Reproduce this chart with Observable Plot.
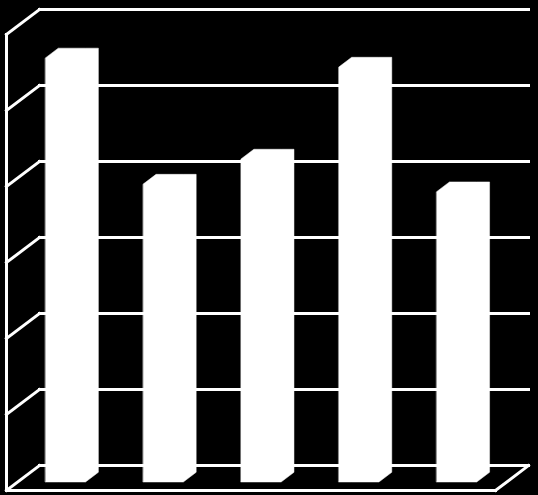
<!DOCTYPE html>
<html><head><meta charset="utf-8">
<script src="https://cdn.jsdelivr.net/npm/d3@7"></script>
<script src="https://cdn.jsdelivr.net/npm/@observablehq/plot@0.6"></script>
<style>html,body{margin:0;padding:0;background:#000;overflow:hidden}</style>
</head><body><div id="chart"></div>
<script>
// Data
const categories = ["1", "2", "3", "4", "5"];
const values = [5.58, 3.92, 4.25, 5.46, 3.82];
const ticks = [0, 1, 2, 3, 4, 5, 6];

// Oblique 3D depth, expressed in data units (category units, value units)
const DX = 33 / 97.8, DY = 25 / 76;
const FRONT = 0.32, BACK = 0.71; // bar depth position (fraction of floor depth)
const HALF = 0.205;             // half-width of a bar in category units

const barPoints = categories.flatMap((c, i) => {
  const v = values[i];
  const x0 = i + 0.5 - HALF + FRONT * DX;
  const x1 = i + 0.5 + HALF + FRONT * DX;
  const ox = (BACK - FRONT) * DX;
  const fy = FRONT * DY, by = BACK * DY;
  return [
    {cat: c, x: x0,      y1: fy, y2: fy + v},
    {cat: c, x: x0 + ox, y1: fy, y2: by + v},
    {cat: c, x: x1,      y1: fy, y2: by + v},
    {cat: c, x: x1 + ox, y1: by, y2: by + v}
  ];
});

const nCat = categories.length;
const yMax = ticks[ticks.length - 1];
const line = {stroke: "white", strokeWidth: 3, strokeLinecap: "square"};

const chart = Plot.plot({
  width: 538,
  height: 495,
  style: {background: "black"},
  x: {type: "linear", domain: [0, nCat], range: [6, 495], axis: null},
  y: {type: "linear", domain: [0, yMax], range: [490, 34], axis: null},
  marks: [
    // back wall gridlines
    Plot.link(ticks, {x1: () => DX, x2: () => nCat + DX, y1: t => t + DY, y2: t => t + DY, ...line}),
    // left wall diagonals
    Plot.link(ticks, {x1: () => 0, y1: t => t, x2: () => DX, y2: t => t + DY, ...line}),
    // left wall front edge
    Plot.link([0], {x1: () => 0, x2: () => 0, y1: () => 0, y2: () => yMax, ...line}),
    // floor front edge
    Plot.link([0], {x1: () => 0, x2: () => nCat, y1: () => 0, y2: () => 0, ...line}),
    // floor right edge
    Plot.link([0], {x1: () => nCat, x2: () => nCat + DX, y1: () => 0, y2: () => DY, ...line}),
    // bars
    Plot.areaY(barPoints, {x: "x", y1: "y1", y2: "y2", z: "cat", fill: "white", stroke: "white", strokeWidth: 0.5})
  ]
});
document.getElementById("chart").append(chart);
</script>
</body></html>
